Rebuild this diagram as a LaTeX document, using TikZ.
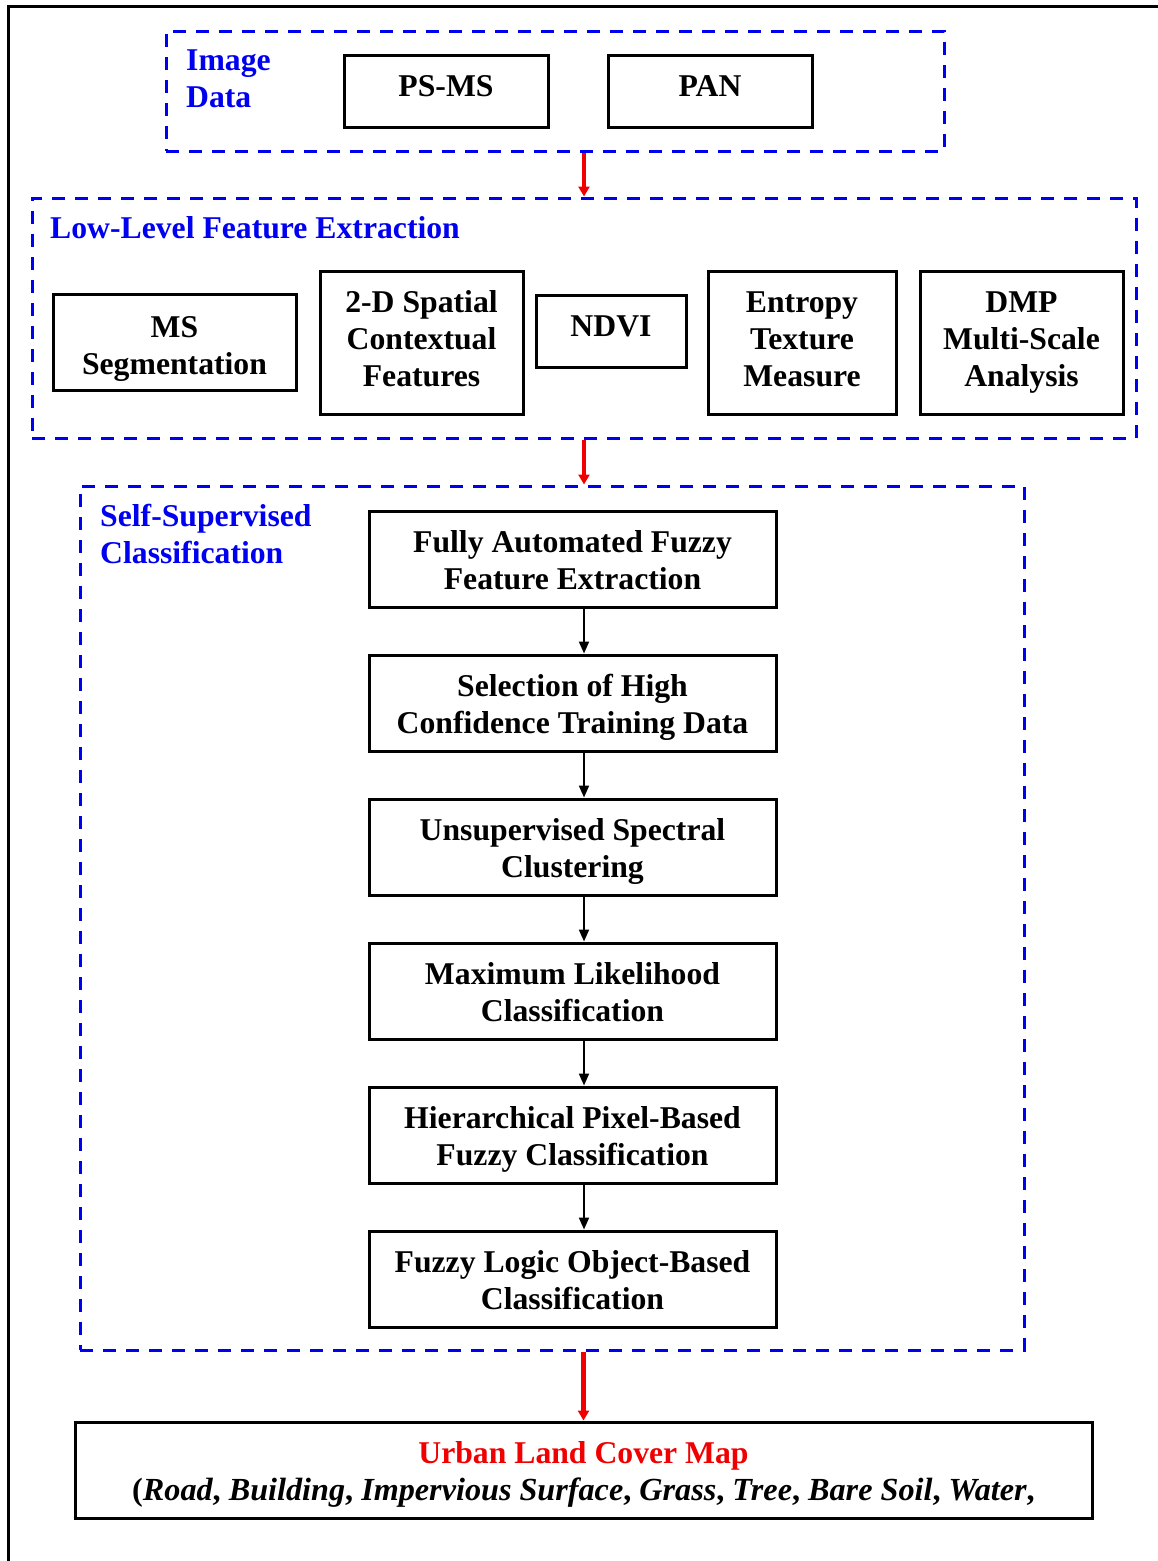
\documentclass[tikz,border=0pt]{standalone}
\usepackage{fontspec}
\setmainfont{Liberation Serif}
\usepackage{tikz}
\usetikzlibrary{arrows.meta, positioning}

\definecolor{titleblue}{RGB}{0,0,240}
\definecolor{mapred}{RGB}{240,0,0}

% box text: declared height and depth around the first baseline
\newcommand{\boxlines}[3]{\raisebox{0pt}[#1][#2]{\begin{tabular}[t]{@{}c@{}}#3\end{tabular}}}

\begin{document}
\begin{tikzpicture}[
        x=1pt, y=-1pt,
        every node/.style={font=\fontsize{31.7}{37}\selectfont\bfseries, inner sep=0pt},
        box/.style={rectangle, draw, line width=3pt},
        stepbox/.style={box, minimum width=407pt, minimum height=96pt},
        databox/.style={box, minimum width=204pt, minimum height=72pt},
        group/.style={rectangle, draw=titleblue, line width=3pt, dash pattern=on 13pt off 10pt},
        grouptitle/.style={text=titleblue, anchor=base west},
        flow/.style={-{Triangle[width=10pt,length=12pt]}, line width=2pt},
        bigflow/.style={-{Triangle[width=11pt,length=10pt]}, line width=4.5pt, draw=mapred, color=mapred}
    ]

    \useasboundingbox (0,0) rectangle (1158,1561);

    % Outer frame
    \draw[line width=3pt] (8,1561) -- (8,6) -- (1158,6);

    % Image data
    \node[group, minimum width=778pt, minimum height=120pt] (img) at (555,91) {};
    \node[grouptitle] (imgtitle) at (186,70) {Image};
    \node[grouptitle] (imgtitleb) at (186,107) {Data};
    \node[databox] (psms) at (446,91) {\boxlines{11.4pt}{0pt}{PS-MS}};
    \node[databox] (pan) [right=57pt of psms] {\boxlines{11.4pt}{0pt}{PAN}};

    % Low-level features
    \node[group, minimum width=1104pt, minimum height=240pt] (low) at (584,318) {};
    \node[grouptitle] (lowtitle) at (50,238) {Low-Level Feature Extraction};
    \node[box, minimum width=243pt, minimum height=96pt] (seg) at (174.5,342.5) {\boxlines{0pt}{11pt}{MS\\Segmentation}};
    \node[box, minimum width=203pt, minimum height=143pt] (spatial) at (421.5,342.5) {\boxlines{0pt}{60pt}{2-D Spatial\\Contextual\\Features}};
    \node[box, minimum width=150pt, minimum height=72pt] (ndvi) at (611,331) {\boxlines{11.4pt}{0pt}{NDVI}};
    \node[box, minimum width=188pt, minimum height=143pt] (entropy) at (802,342.5) {\boxlines{0pt}{60pt}{Entropy\\Texture\\Measure}};
    \node[box, minimum width=203pt, minimum height=143pt] (dmp) at (1021.5,342.5) {\boxlines{0pt}{61pt}{DMP\\Multi-Scale\\Analysis}};

    % Self-supervised classification
    \node[group, minimum width=944pt, minimum height=864pt] (self) at (552,918) {};
    \node[grouptitle] (selftitle) at (100,526) {Self-Supervised};
    \node[grouptitle] (selftitleb) at (100,563) {Classification};
    \node[stepbox] (fuzzyfeat) at (572.5,559) {\boxlines{0pt}{13pt}{Fully Automated Fuzzy\\Feature Extraction}};
    \node[stepbox] (training) [below=45pt of fuzzyfeat] {\boxlines{0pt}{13pt}{Selection of High\\Confidence Training Data}};
    \node[stepbox] (cluster) [below=45pt of training] {\boxlines{0pt}{13pt}{Unsupervised Spectral\\Clustering}};
    \node[stepbox] (mlc) [below=45pt of cluster] {\boxlines{0pt}{13pt}{Maximum Likelihood\\Classification}};
    \node[stepbox] (pixel) [below=45pt of mlc] {\boxlines{0pt}{13pt}{Hierarchical Pixel-Based\\Fuzzy Classification}};
    \node[stepbox] (object) [below=45pt of pixel] {\boxlines{0pt}{13pt}{Fuzzy Logic Object-Based\\Classification}};

    % Output map
    \node[box, minimum width=1017pt, minimum height=96pt] (map) at (583.5,1470)
        {\boxlines{0pt}{13pt}{\textcolor{mapred}{Urban Land Cover Map}\\\fontsize{32.2}{37}\selectfont(\textit{Road}, \textit{Building}, \textit{Impervious Surface}, \textit{Grass}, \textit{Tree}, \textit{Bare Soil}, \textit{Water},}};

    % Steps
    \foreach \a/\b in {fuzzyfeat/training, training/cluster, cluster/mlc, mlc/pixel, pixel/object}
        \draw[flow] (\a.south -| 584,0) -- (\b.north -| 584,0);

    % Between groups
    \draw[bigflow] (low.north |- img.south) -- (low.north);
    \draw[bigflow] (low.south) -- (low.south |- self.north);
    \draw[bigflow] (map.north |- self.south) -- (map.north);

\end{tikzpicture}
\end{document}
